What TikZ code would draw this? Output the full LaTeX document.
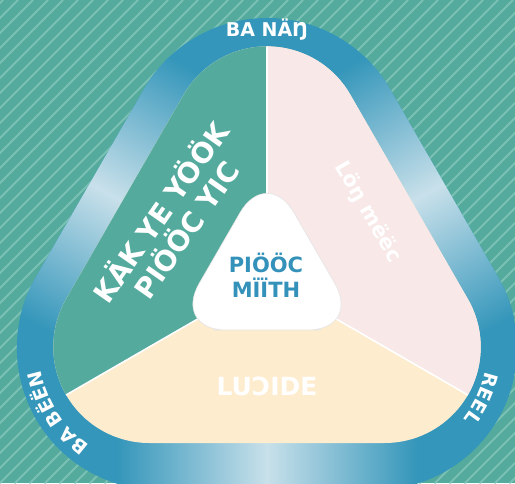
\documentclass[tikz,border=0pt]{standalone}
\usepackage{fontspec}
\setmainfont{DejaVu Sans}
\usepackage{xcolor}
\usetikzlibrary{decorations.text}

\definecolor{bgteal}{RGB}{84,171,157}
\definecolor{stripeteal}{RGB}{122,193,181}
\definecolor{ringblue}{RGB}{52,150,186}
\definecolor{ringlight}{RGB}{200,224,234}
\definecolor{secpink}{RGB}{248,232,232}
\definecolor{seccream}{RGB}{254,236,206}
\definecolor{centreblue}{RGB}{52,146,186}

\newcommand{\ringfont}{\fontsize{19}{19}\selectfont\bfseries}

\begin{document}
\begin{tikzpicture}[x=1pt, y=1pt, line cap=round, line join=round]
	\useasboundingbox (0,0) rectangle (515,483);
	\clip (0,0) rectangle (515,483);
	
	% ===== styles =====
	\tikzset{
		stripe/.style={stripeteal, line width=1.8pt},
		outer shape/.style={insert path={([shift={(30:142)}]267,323) arc[start angle=30, end angle=150, radius=142]
			-- ([shift={(150:142)}]158.9,135) arc[start angle=150, end angle=270, radius=142]
			-- ([shift={(270:142)}]375.1,135) arc[start angle=270, end angle=390, radius=142] -- cycle}},
		inner shape/.style={insert path={([shift={(30:96)}]267,340.6) arc[start angle=30, end angle=150, radius=96]
			-- ([shift={(150:96)}]149.3,136) arc[start angle=150, end angle=270, radius=96]
			-- ([shift={(270:96)}]384.7,136) arc[start angle=270, end angle=390, radius=96] -- cycle}},
		sheen/.style={left color=ringblue, right color=ringblue, middle color=ringlight},
		divider/.style={white, line width=1.6pt},
		sectortext/.style={white, align=center}
	}
	
	% ===== nền sọc =====
	\fill[bgteal] (0,0) rectangle (515,483);
	\foreach \k in {-480,-465,...,515}{
		\draw[stripe] (\k,0) -- ++(483,483);
	}
	
	% ===== vòng ngoài =====
	\begin{scope}
		\clip[outer shape];
		\fill[ringblue] (-100,-20) rectangle (640,620);
		\shade[sheen] (117,-20) rectangle (417,60);
		\begin{scope}[transform canvas={shift={(90,300)}, rotate=60}]
			\shade[sheen] (-150,-55) rectangle (150,10);
		\end{scope}
		\begin{scope}[transform canvas={shift={(444,300)}, rotate=-60}]
			\shade[sheen] (-150,-55) rectangle (150,10);
		\end{scope}
	\end{scope}
	
	% ===== ba phần bên trong =====
	\coordinate (centre) at (267,204);
	\coordinate (topend) at (267,560);
	\coordinate (leftend) at ([shift={(210:420)}]centre);
	\coordinate (rightend) at ([shift={(-30:420)}]centre);
	\begin{scope}
		\clip[inner shape];
		\fill[seccream] (-50,0) rectangle (600,600);
		\fill[bgteal] (centre) -- (topend) -- (-120,560) -- (leftend) -- cycle;
		\fill[secpink] (centre) -- (rightend) -- (650,560) -- (topend) -- cycle;
		\draw[divider] (centre) -- (topend);
		\draw[divider] (centre) -- (leftend);
		\draw[divider] (centre) -- (rightend);
	\end{scope}
	
	% ===== tam giác giữa =====
	\filldraw[fill=white, draw=black!10, line width=0.6pt, rounded corners=54] (267,153) -- (361.7,153) -- (267,317) -- (172.3,153) -- cycle;
	\node[centreblue, font=\fontsize{21}{25}\selectfont\bfseries, align=center] (core) at (266,207.5) {PIÖÖC\\MÏÏTH};
	
	% ===== chữ trong các phần =====
	\node[sectortext, font=\fontsize{28}{31}\selectfont\bfseries, rotate=55] (leftword) at (172,263) {KÄK YE YÖÖK\\PIÖÖC YIC};
	\node[sectortext, font=\fontsize{21}{21}\selectfont\bfseries, rotate=-60] (rightword) at (368,271) {Löŋ mëëc};
	\node[sectortext, font=\fontsize{25}{25}\selectfont\bfseries] (bottomword) at (267,97) {LUƆIDE};
	
	% ===== nhãn trên vòng =====
	\node[white, font=\ringfont] (topname) at (267,453) {BA NÄŊ};
	\path[decorate, decoration={text along path, text={|\color{white}\ringfont|BA BËËN}, text align=center}]
		([shift={(250:120)}]159,135) arc[start angle=250, end angle=175, radius=120];
	\path[decorate, decoration={text along path, text={|\color{white}\ringfont|REEL}, text align=center}]
		([shift={(12:113)}]375,135) arc[start angle=12, end angle=-63, radius=113];
\end{tikzpicture}
\end{document}
